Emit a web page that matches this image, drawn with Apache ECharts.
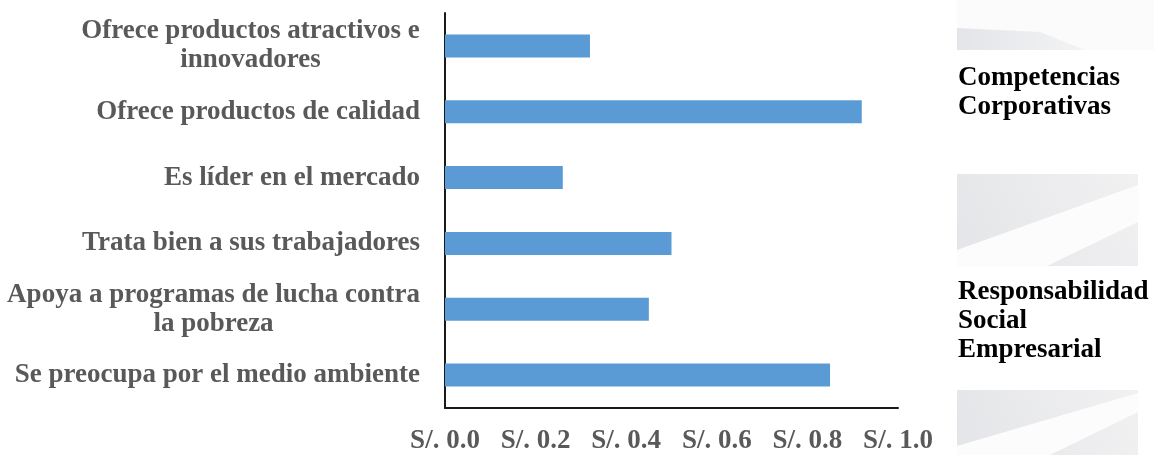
<!DOCTYPE html>
<html>
<head>
<meta charset="utf-8">
<script src="https://cdn.jsdelivr.net/npm/echarts@6/dist/echarts.min.js"></script>
<style>
html,body{margin:0;padding:0;background:#fff;}
#c{width:1154px;height:455px;}
</style>
</head>
<body>
<div id="c"></div>
<script>
const categories = [
  'Ofrece productos atractivos e\ninnovadores',
  'Ofrece productos de calidad',
  'Es líder en el mercado',
  'Trata bien a sus trabajadores',
  'Apoya a programas de lucha contra\nla pobreza',
  'Se preocupa por el medio ambiente'
];
const values = [0.32, 0.92, 0.26, 0.50, 0.45, 0.85];
const tickValues = [0, 0.2, 0.4, 0.6, 0.8, 1.0];
const sideTitles = ['Competencias\nCorporativas', 'Responsabilidad\nSocial\nEmpresarial'];

const FONT_FAMILY = '"Liberation Serif", "Times New Roman", serif';
const FONT_SIZE = 27;
const LINE_H = 29;

const cv = document.createElement('canvas').getContext('2d');
cv.font = 'bold ' + FONT_SIZE + 'px ' + FONT_FAMILY;
const rich = {};
categories.forEach((c, i) => {
  const lines = c.split('\n');
  const w = Math.max.apply(null, lines.map(l => cv.measureText(l).width));
  rich['r' + i] = {
    width: Math.ceil(w), align: 'center',
    fontSize: FONT_SIZE, fontWeight: 'bold', fontFamily: FONT_FAMILY,
    color: '#595959', lineHeight: LINE_H
  };
});

const chart = echarts.init(document.getElementById('c'), null, {renderer: 'canvas'});
chart.setOption({
  animation: false,
  backgroundColor: '#fff',
  grid: {left: 445, right: 256, top: 13, bottom: 46, containLabel: false},
  xAxis: {
    type: 'value', min: 0, max: 1, interval: 0.2,
    axisLine: {show: true, lineStyle: {color: '#1a1a1a', width: 2}},
    axisTick: {show: false},
    splitLine: {show: false},
    axisLabel: {
      margin: 20,
      color: '#595959', fontSize: FONT_SIZE, fontWeight: 'bold', fontFamily: FONT_FAMILY,
      formatter: v => 'S/. ' + v.toFixed(1),
      customValues: tickValues
    }
  },
  yAxis: {
    type: 'category', data: categories, inverse: true,
    axisLine: {show: true, lineStyle: {color: '#1a1a1a', width: 2}},
    axisTick: {show: false},
    axisLabel: {
      margin: 25, lineHeight: LINE_H,
      color: '#595959', fontSize: FONT_SIZE, fontWeight: 'bold', fontFamily: FONT_FAMILY,
      formatter: function (v) {
        const i = categories.indexOf(v);
        const lines = v.split('\n');
        if (lines.length === 1) return v;
        return lines.map(l => '{r' + i + '|' + l + '}').join('\n');
      },
      rich: rich
    }
  },
  series: [{
    type: 'bar', data: values, barWidth: 23,
    itemStyle: {color: '#5B9BD5'}
  }],
  graphic: [
    {type: 'rect', shape: {x: 957, y: 0, width: 197, height: 50}, style: {fill: '#fbfbfb'}, silent: true},
    {type: 'polygon', shape: {points: [[957, 28], [1040, 32], [1085, 50], [957, 50]]}, style: {fill: new echarts.graphic.LinearGradient(0, 0, 1, 0, [{offset: 0, color: '#e3e5e9'}, {offset: 1, color: '#f3f3f4'}])}, silent: true},
    {type: 'rect', shape: {x: 957, y: 174, width: 181, height: 92}, style: {fill: new echarts.graphic.LinearGradient(0, 1, 1, 0, [{offset: 0, color: '#e4e5e8'}, {offset: 1, color: '#f1f1f2'}])}, silent: true},
    {type: 'polygon', shape: {points: [[957, 250], [1138, 185], [1138, 222], [1047, 266], [957, 266]]}, style: {fill: '#fcfcfc'}, silent: true},
    {type: 'rect', shape: {x: 957, y: 390, width: 181, height: 65}, style: {fill: new echarts.graphic.LinearGradient(0, 1, 1, 0, [{offset: 0, color: '#e4e5e8'}, {offset: 1, color: '#f1f1f2'}])}, silent: true},
    {type: 'polygon', shape: {points: [[957, 446], [1138, 393], [1138, 412], [1050, 455], [957, 455]]}, style: {fill: '#fcfcfc'}, silent: true},
    {type: 'text', left: 958, top: 64, style: {text: sideTitles[0], font: 'bold ' + FONT_SIZE + 'px ' + FONT_FAMILY, fill: '#000', lineHeight: LINE_H}},
    {type: 'text', left: 958, top: 278, style: {text: sideTitles[1], font: 'bold ' + FONT_SIZE + 'px ' + FONT_FAMILY, fill: '#000', lineHeight: LINE_H}}
  ]
});
</script>
</body>
</html>
